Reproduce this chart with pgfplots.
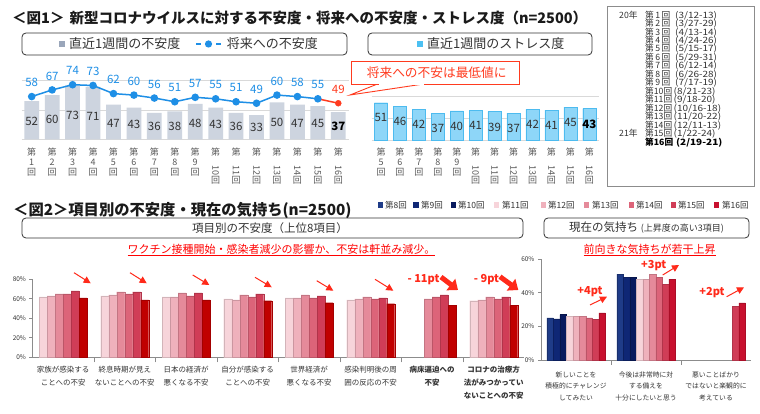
\documentclass[border=0pt]{standalone}
\usepackage{fontspec}
\setmainfont{Noto Sans CJK JP}
\usepackage{graphicx}
\usepackage{pgfplots}
\pgfplotsset{compat=1.18}
\pgfplotsset{/pgf/number format/assume math mode=true}
\usetikzlibrary{arrows.meta}
\definecolor{txt}{HTML}{333333}
\definecolor{titleC}{HTML}{1A1A1A}
\definecolor{barGray}{HTML}{CDD4DF}
\definecolor{barLegend}{HTML}{9AA6BA}
\definecolor{lineBlue}{HTML}{1E8FE6}
\definecolor{hiRed}{HTML}{FF3B1F}
\definecolor{stressBlue}{HTML}{8ED6F8}
\definecolor{stressEdge}{HTML}{4DBBEF}
\definecolor{stressLegend}{HTML}{4CC0F2}
\definecolor{gridGray}{HTML}{D9D9D9}
\definecolor{tickGray}{HTML}{595959}
\definecolor{axGray}{HTML}{8C8C8C}
\definecolor{annRed}{HTML}{FF0000}
\definecolor{arrowRed}{HTML}{FF2A1A}
\definecolor{c8}{HTML}{1F3C88}
\definecolor{c9}{HTML}{0F2775}
\definecolor{c10}{HTML}{081A5E}
\definecolor{c11}{HTML}{F7D4DA}
\definecolor{c12}{HTML}{EFB1BC}
\definecolor{c13}{HTML}{E58A9A}
\definecolor{c14}{HTML}{DC6479}
\definecolor{c15}{HTML}{D03D57}
\definecolor{c16}{HTML}{C00000}
\definecolor{c16b}{HTML}{C8102E}
\newcommand{\fsz}[2]{\fontsize{#1}{#2}\selectfont}
\newcommand{\dt}[1]{\scalebox{1.15}[1]{#1}}
\begin{document}
\begin{tikzpicture}[x=1pt,y=1pt]
\path[use as bounding box] (0,0) rectangle (760,414);
\fill[white] (0,0) rectangle (760,414);

% ---------------- Figure 1 titles and legends
\node[anchor=west, inner sep=0, font=\bfseries\fsz{14.5}{15}, text=titleC] at (12,396) {＜図1＞\hspace{5pt}新型コロナウイルスに対する不安度・将来への不安度・ストレス度（n=2500）};
\draw[rounded corners=4pt, line width=0.8pt, draw=txt] (22,359) rectangle (347,381);
\fill[barLegend] (58.7,367) rectangle (64.7,373);
\node[anchor=west, inner sep=0, font=\fsz{13}{13}, text=txt] at (69,370) {直近1週間の不安度};
\draw[lineBlue, line width=1.5pt] (196,370) -- (201,370);
\draw[lineBlue, line width=1.5pt] (216,370) -- (221,370);
\fill[lineBlue] (208.5,370) circle (3.6pt);
\node[anchor=west, inner sep=0, font=\fsz{13}{13}, text=txt] at (226.7,370) {将来への不安度};
\draw[rounded corners=4pt, line width=0.8pt, draw=txt] (368,359) rectangle (592,381);
\fill[stressLegend] (417,367) rectangle (423,373);
\node[anchor=west, inner sep=0, font=\fsz{13}{13}, text=txt] at (427,370) {直近1週間のストレス度};

% date box
\draw[draw=axGray, line width=0.6pt] (607,228) rectangle (754,408);
\begin{scope}[every node/.style={anchor=west, inner sep=0, font=\fsz{8.7}{8.7}, text=txt, text height=6.2pt, text depth=1.4pt}]
\node at (619,398.3) {20年};
\node at (619,279.72) {21年};
\node at (645,398.3) {第\,1\,回}; \node at (675,398.3) {\dt{(3/12-13)}};
\node at (645,389.83) {第\,2\,回}; \node at (675,389.83) {\dt{(3/27-29)}};
\node at (645,381.36) {第\,3\,回}; \node at (675,381.36) {\dt{(4/13-14)}};
\node at (645,372.89) {第\,4\,回}; \node at (675,372.89) {\dt{(4/24-26)}};
\node at (645,364.42) {第\,5\,回}; \node at (675,364.42) {\dt{(5/15-17)}};
\node at (645,355.95) {第\,6\,回}; \node at (675,355.95) {\dt{(5/29-31)}};
\node at (645,347.48) {第\,7\,回}; \node at (675,347.48) {\dt{(6/12-14)}};
\node at (645,339.01) {第\,8\,回}; \node at (675,339.01) {\dt{(6/26-28)}};
\node at (645,330.54) {第\,9\,回}; \node at (675,330.54) {\dt{(7/17-19)}};
\node at (645,322.07) {第10回}; \node at (673.5,322.07) {\dt{(8/21-23)}};
\node at (645,313.6) {第11回}; \node at (673.5,313.6) {\dt{(9/18-20)}};
\node at (645,305.13) {第12回}; \node at (673.5,305.13) {\dt{(10/16-18)}};
\node at (645,296.66) {第13回}; \node at (673.5,296.66) {\dt{(11/20-22)}};
\node at (645,288.19) {第14回}; \node at (673.5,288.19) {\dt{(12/11-13)}};
\node at (645,279.72) {第15回}; \node at (673.5,279.72) {\dt{(1/22-24)}};
\node[font=\bfseries\fsz{8.7}{8.7}, text=black] at (645,271.25) {第16回}; \node[font=\bfseries\fsz{8.7}{8.7}, text=black] at (676,271.25) {\dt{(2/19-21)}};
\end{scope}

% figure 1 vertical category labels
\begin{scope}[every node/.style={anchor=north, align=center, inner sep=0, font=\fsz{9}{10}, text=tickGray}]
\foreach \i/\lab in {0/1,1/2,2/3,3/4,4/5,5/6,6/7,7/8,8/9}
  \node at ({31.7+20.44*\i},266.5) {第\\\lab\\回};
\foreach \i/\lab in {9/10,10/11,11/12,12/13,13/14,14/15,15/16}
  \node at ({31.7+20.44*\i},266.5) {第\\\rotatebox{-90}{\lab}\\回};
\foreach \i/\lab in {0/5,1/6,2/7,3/8,4/9}
  \node at ({381+18.94*\i},266.5) {第\\\lab\\回};
\foreach \i/\lab in {5/10,6/11,7/12,8/13,9/14,10/15,11/16}
  \node at ({381+18.94*\i},266.5) {第\\\rotatebox{-90}{\lab}\\回};
\end{scope}

% ---------------- Figure 1 left axis
\begin{scope}[shift={(21.5pt,274.5pt)}]
\begin{axis}[at={(0pt,0pt)}, anchor=south west, scale only axis,
  width=327pt, height=59.2pt,
  xmin=-0.5, xmax=15.5, ymin=0, ymax=80,
  axis line style={draw=none}, xtick=\empty, ytick=\empty,
  clip=false]
\draw[gridGray, line width=0.7pt] (axis cs:-0.5,0) -- (axis cs:15.5,0);
\draw[gridGray, line width=0.7pt] (axis cs:-0.5,40) -- (axis cs:15.5,40);
\draw[gridGray, line width=0.7pt] (axis cs:-0.5,80) -- (axis cs:15.5,80);
\addplot[ybar, bar width=0.72, fill=barGray, draw=none] coordinates {(0,52)(1,60)(2,73)(3,71)(4,47)(5,43)(6,36)(7,38)(8,48)(9,43)(10,36)(11,33)(12,50)(13,47)(14,45)(15,37)};
\addplot[draw=none, nodes near coords, point meta=explicit, every node near coord/.append style={anchor=center, font=\fsz{11.5}{12}, text=txt}] table[x=x, y expr={0.4*\thisrow{v}+3}, meta=v, row sep=\\] {x v\\0 52\\1 60\\2 73\\3 71\\4 47\\5 43\\6 36\\7 38\\8 48\\9 43\\10 36\\11 33\\12 50\\13 47\\14 45\\};
\addplot[draw=none, nodes near coords, point meta=explicit, every node near coord/.append style={anchor=center, font=\bfseries\fsz{11.5}{12}, text=black}] table[x=x, y expr={0.4*\thisrow{v}+3}, meta=v, row sep=\\] {x v\\15 37\\};
\addplot[hiRed, line width=1.5pt] coordinates {(14,55)(15,49)};
\addplot[lineBlue, line width=1.5pt, mark=*, mark size=3pt, mark options={fill=lineBlue, draw=lineBlue}, nodes near coords, point meta=y, every node near coord/.append style={anchor=center, yshift=14pt, font=\fsz{11.5}{12}, text=lineBlue}] coordinates {(0,58)(1,67)(2,74)(3,73)(4,62)(5,60)(6,56)(7,51)(8,57)(9,55)(10,51)(11,49)(12,60)(13,58)(14,55)};
\addplot[hiRed, only marks, mark=*, mark size=3pt, mark options={fill=hiRed, draw=hiRed}, nodes near coords, point meta=y, every node near coord/.append style={anchor=center, yshift=14pt, font=\fsz{11.5}{12}, text=hiRed}] coordinates {(15,49)};
\end{axis}
\end{scope}

% callout (drawn above the line chart)
\filldraw[draw=hiRed, fill=white, line width=0.9pt] (378,330.2) -- (350,319) -- (425,330.2);
\filldraw[draw=hiRed, fill=white, line width=1pt] (351.7,329.7) rectangle (519,352.3);
\fill[white] (378.8,329.1) rectangle (424.2,330.3);
\node[font=\fsz{12.7}{13}, text=hiRed] at (436.7,341.7) {将来への不安は最低値に};

% ---------------- Figure 1 right axis
\begin{scope}[shift={(371.5pt,273.3pt)}]
\begin{axis}[at={(0pt,0pt)}, anchor=south west, scale only axis,
  width=227.3pt, height=59.6pt,
  xmin=-0.5, xmax=11.5, ymin=0, ymax=80,
  axis line style={draw=none}, xtick=\empty, ytick=\empty,
  clip=false]
\draw[gridGray, line width=0.7pt] (axis cs:-0.5,0) -- (axis cs:11.5,0);
\draw[gridGray, line width=0.7pt] (axis cs:-0.5,30) -- (axis cs:11.5,30);
\draw[gridGray, line width=0.7pt] (axis cs:-0.5,60) -- (axis cs:11.5,60);
\addplot[ybar, bar width=0.7, fill=stressBlue, draw=stressEdge, line width=0.4pt] coordinates {(0,51)(1,46)(2,42)(3,37)(4,40)(5,41)(6,39)(7,37)(8,42)(9,41)(10,45)(11,43)};
\addplot[draw=none, nodes near coords, point meta=explicit, every node near coord/.append style={anchor=center, font=\fsz{11.5}{12}, text=txt}] table[x=x, y expr={\thisrow{v}-20.5}, meta=v, row sep=\\] {x v\\0 51\\1 46\\2 42\\3 37\\4 40\\5 41\\6 39\\7 37\\8 42\\9 41\\10 45\\};
\addplot[draw=none, nodes near coords, point meta=explicit, every node near coord/.append style={anchor=center, font=\bfseries\fsz{11.5}{12}, text=black}] table[x=x, y expr={\thisrow{v}-20.5}, meta=v, row sep=\\] {x v\\11 43\\};
\end{axis}
\end{scope}

% ---------------- Figure 2 titles, legend, boxes
\node[anchor=west, inner sep=0, font=\bfseries\fsz{15.3}{16}, text=titleC] at (13,204) {＜図2＞項目別の不安度・現在の気持ち(n=2500)};
\begin{scope}[every node/.style={anchor=west, inner sep=0, font=\fsz{8.5}{9}, text=txt}]
\fill[c8] (377.8,206.3) rectangle (383.2,211.7); \node at (385,209) {第8回};
\fill[c9] (413.3,206.3) rectangle (418.7,211.7); \node at (421,209) {第9回};
\fill[c10] (450.6,206.3) rectangle (456,211.7); \node at (458,209) {第10回};
\fill[c11] (494,206.3) rectangle (499.4,211.7); \node at (502,209) {第11回};
\fill[c12] (540.6,206.3) rectangle (546,211.7); \node at (548,209) {第12回};
\fill[c13] (584,206.3) rectangle (589.4,211.7); \node at (592,209) {第13回};
\fill[c14] (629,206.3) rectangle (634.4,211.7); \node at (636,209) {第14回};
\fill[c15] (670.6,206.3) rectangle (676,211.7); \node at (678,209) {第15回};
\fill[c16b] (714,206.3) rectangle (719.4,211.7); \node at (722,209) {第16回};
\end{scope}
\draw[rounded corners=4pt, line width=0.8pt, draw=txt] (22,176) rectangle (523,196);
\node[font=\fsz{11.5}{12}, text=txt] at (270,186) {項目別の不安度（上位8項目）};
\draw[rounded corners=4pt, line width=0.8pt, draw=txt] (544,176) rectangle (749,196);
\node[font=\fsz{11.5}{12}, text=txt] at (646.5,186) {現在の気持ち {\fsz{9}{9}(上昇度の高い3項目)}};
\node[font=\fsz{11}{11}, text=annRed] at (281.5,164) {\underline{ワクチン接種開始・感染者減少の影響か、不安は軒並み減少。}};
\node[font=\fsz{11}{11}, text=annRed] at (649.5,164) {\underline{前向きな気持ちが若干上昇}};

% ---------------- Figure 2 left axis
\begin{scope}[shift={(32.5pt,56.7pt)}]
\begin{axis}[at={(0pt,0pt)}, anchor=south west, scale only axis,
  width=492pt, height=78pt,
  xmin=-0.5, xmax=7.5, ymin=0, ymax=80,
  ybar=0pt, bar width=8pt,
  axis x line*=bottom, axis y line*=left,
  axis line style={draw=axGray, line width=0.6pt},
  ytick={0,20,40,60,80}, yticklabels={0\%,20\%,40\%,60\%,80\%},
  yticklabel style={font=\fsz{6.5}{7}, text=txt},
  ytick style={draw=axGray, line width=0.6pt},
  tick align=outside, major tick length=3pt,
  xtick={0,...,7}, xtick style={draw=none},
  extra x ticks={0.5,1.5,2.5,3.5,4.5,5.5,6.5}, extra x tick labels={},
  extra x tick style={xtick style={draw=axGray, line width=0.6pt}, major tick length=5pt},
  xticklabels={{家族が感染する\\ことへの不安},{終息時期が見え\\ないことへの不安},{日本の経済が\\悪くなる不安},{自分が感染する\\ことへの不安},{世界経済が\\悪くなる不安},{感染判明後の周\\囲の反応の不安},{\bfseries 病床逼迫への\\\bfseries 不安},{\bfseries コロナの治療方\\\bfseries 法がみつかってい\\\bfseries ないことへの不安}},
  xticklabel style={align=center, font=\fsz{7.5}{13}, text=txt, yshift=-2pt},
  clip=false]
\addplot[fill=c11, draw=c11!85!black, line width=0.3pt] coordinates {(0,62)(1,63)(2,62)(3,60)(4,61)(5,59)(7,58)};
\addplot[fill=c12, draw=c12!85!black, line width=0.3pt] coordinates {(0,63)(1,64)(2,62)(3,59)(4,61)(5,60)(7,59)};
\addplot[fill=c13, draw=c13!85!black, line width=0.3pt] coordinates {(0,65)(1,67)(2,66)(3,64)(4,64)(5,62)(6,60)(7,62)};
\addplot[fill=c14, draw=c14!85!black, line width=0.3pt] coordinates {(0,65)(1,65)(2,63)(3,62)(4,61)(5,60)(6,62)(7,60)};
\addplot[fill=c15, draw=c15!85!black, line width=0.3pt] coordinates {(0,68)(1,67)(2,66)(3,65)(4,63)(5,61)(6,64)(7,62)};
\addplot[fill=c16, draw=c16!85!black, line width=0.3pt] coordinates {(0,61)(1,59)(2,59)(3,58)(4,56)(5,55)(6,53)(7,53)};
\end{axis}
\end{scope}

% ---------------- Figure 2 right axis
\begin{scope}[shift={(541pt,54pt)}]
\begin{axis}[at={(0pt,0pt)}, anchor=south west, scale only axis,
  width=210pt, height=101pt,
  xmin=-0.5, xmax=2.5, ymin=0, ymax=60,
  ybar=0pt, bar width=6.5pt,
  axis x line*=bottom, axis y line*=left,
  axis line style={draw=axGray, line width=0.6pt},
  ytick={0,20,40,60}, yticklabels={0\%,20\%,40\%,60\%},
  yticklabel style={font=\fsz{6.5}{7}, text=txt},
  ytick style={draw=axGray, line width=0.6pt},
  tick align=outside, major tick length=3pt,
  xtick={0,1,2}, xtick style={draw=none},
  extra x ticks={0.5,1.5}, extra x tick labels={},
  extra x tick style={xtick style={draw=axGray, line width=0.6pt}, major tick length=5pt},
  xticklabels={{新しいことを\\積極的にチャレンジ\\してみたい},{今後は非常時に対\\する備えを\\十分にしたいと思う},{悪いことばかり\\ではないと楽観的に\\考えている}},
  xticklabel style={align=center, font=\fsz{6.8}{11.7}, text=txt, yshift=-5pt},
  clip=false]
\addplot[fill=c8, draw=c8!80!black, line width=0.3pt] coordinates {(0,25)(1,51)};
\addplot[fill=c9, draw=c9!80!black, line width=0.3pt] coordinates {(0,24.5)(1,49)};
\addplot[fill=c10, draw=c10!80!black, line width=0.3pt] coordinates {(0,27)(1,49)};
\addplot[fill=c11, draw=c11!85!black, line width=0.3pt] coordinates {(0,26)(1,48)};
\addplot[fill=c12, draw=c12!85!black, line width=0.3pt] coordinates {(0,26)(1,48)};
\addplot[fill=c13, draw=c13!85!black, line width=0.3pt] coordinates {(0,26)(1,51)};
\addplot[fill=c14, draw=c14!85!black, line width=0.3pt] coordinates {(0,25)(1,49)};
\addplot[fill=c15, draw=c15!85!black, line width=0.3pt] coordinates {(0,24)(1,45)(2,32)};
\addplot[fill=c16b, draw=c16b!85!black, line width=0.3pt] coordinates {(0,28)(1,48)(2,34)};
\end{axis}
\end{scope}

% ---------------- Figure 2 annotations
\begin{scope}[arrowRed, line width=1pt]
\draw[-{Triangle[width=7pt,length=7pt]}] (74,141.3) -- (90.7,130.7);
\draw[-{Triangle[width=7pt,length=7pt]}] (130,141.3) -- (146.7,130.7);
\draw[-{Triangle[width=7pt,length=7pt]}] (192.7,139) -- (209.3,129);
\draw[-{Triangle[width=7pt,length=7pt]}] (255,136.7) -- (271.7,126.7);
\draw[-{Triangle[width=7pt,length=7pt]}] (316.7,133.3) -- (333.3,123.3);
\draw[-{Triangle[width=7pt,length=7pt]}] (375,134.7) -- (393.3,123.3);
\draw[-{Triangle[width=7pt,length=7pt]}] (590,109) -- (607,117.3);
\draw[-{Triangle[width=7pt,length=7pt]}] (662.7,139) -- (679,149);
\draw[-{Triangle[width=7pt,length=7pt]}] (726.7,117.3) -- (744,126.7);
\draw[line width=5pt, -{Triangle[width=14pt,length=9pt]}] (441,137) -- (458,124);
\draw[line width=5pt, -{Triangle[width=14pt,length=9pt]}] (500,137.3) -- (518.3,124);
\end{scope}
\begin{scope}[every node/.style={font=\bfseries\fsz{11}{11}, text=arrowRed, inner sep=0}]
\node at (423.5,134) {- 11pt};
\node at (486.5,134) {- 9pt};
\node at (590,122.3) {+4pt};
\node at (653.7,148) {+3pt};
\node at (712,121.3) {+2pt};
\end{scope}
\end{tikzpicture}
\end{document}
